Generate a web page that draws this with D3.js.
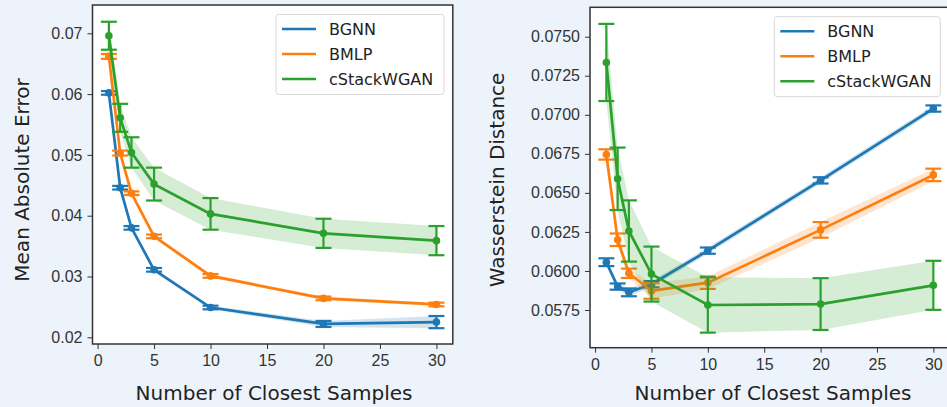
<!DOCTYPE html>
<html>
<head>
<meta charset="utf-8">
<script src="https://cdn.jsdelivr.net/npm/d3@7"></script>
<style>
  html, body { margin: 0; padding: 0; background: #edf3fa; }
  svg { display: block; font-family: "DejaVu Sans", sans-serif; }
  .tick text { font-size: 16px; fill: #333; }
  .tick line { stroke: #333; }
</style>
</head>
<body>
<div id="chart"></div>
<script>
// x positions shared by both panels
const samples = [1, 2, 3, 5, 10, 20, 30];
const seriesNames = ["BGNN", "BMLP", "cStackWGAN"];
const colors = ["#1f77b4", "#ff7f0e", "#2ca02c"];

// Mean Absolute Error panel
const maeBGNN = [0.0602, 0.0446, 0.0380, 0.0311, 0.0249, 0.0222, 0.0225];
const maeBGNNErr = [0.0003, 0.0003, 0.0003, 0.0003, 0.0003, 0.0005, 0.0010];
const maeBMLP = [0.0662, 0.0503, 0.0437, 0.0366, 0.0301, 0.0264, 0.0254];
const maeBMLPErr = [0.0004, 0.0004, 0.0003, 0.0003, 0.0003, 0.0003, 0.0003];
const maeWGAN = [0.0696, 0.0561, 0.0504, 0.0452, 0.0403, 0.0371, 0.0359];
const maeWGANErr = [0.0023, 0.0023, 0.0025, 0.0027, 0.0026, 0.0024, 0.0024];
const maeTicks = [0.02, 0.03, 0.04, 0.05, 0.06, 0.07];

// Wasserstein Distance panel
const wdBGNN = [0.06056, 0.0590, 0.05863, 0.05915, 0.0613, 0.0658, 0.0704];
const wdBGNNErr = [0.00025, 0.0002, 0.00025, 0.0002, 0.0002, 0.0002, 0.0002];
const wdBMLP = [0.06746, 0.0620, 0.05985, 0.05872, 0.05925, 0.06263, 0.06615];
const wdBMLPErr = [0.00033, 0.0004, 0.0003, 0.0005, 0.0004, 0.0005, 0.0004];
const wdWGAN = [0.07335, 0.0659, 0.06256, 0.0598, 0.05782, 0.05788, 0.05908];
const wdWGANErr = [0.00247, 0.0020, 0.00196, 0.00176, 0.00177, 0.00166, 0.00157];
const wdTicks = [0.0575, 0.0600, 0.0625, 0.0650, 0.0675, 0.0700, 0.0725, 0.0750];

const xTicks = [0, 5, 10, 15, 20, 25, 30];

const width = 947, height = 407;

const svg = d3.select("#chart").append("svg")
    .attr("width", width)
    .attr("height", height);

svg.append("rect").attr("width", width).attr("height", height).attr("fill", "#edf3fa");

function drawPanel(cfg) {
    const g = svg.append("g");

    const x = d3.scaleLinear().domain([-0.45, 31.45]).range([cfg.left, cfg.right]);
    const y = d3.scaleLinear().domain(cfg.yDomain).range(cfg.yRange);

    // plot area
    g.append("rect")
        .attr("x", cfg.left).attr("y", cfg.top)
        .attr("width", cfg.right - cfg.left).attr("height", cfg.bottom - cfg.top)
        .attr("fill", "#fff");

    const series = cfg.series.map((s, i) => ({
        name: seriesNames[i],
        color: colors[i],
        points: samples.map((k, j) => ({ k, v: s.mean[j], e: s.err[j] }))
    }));

    const area = d3.area()
        .x(d => x(d.k))
        .y0(d => y(d.v - d.e))
        .y1(d => y(d.v + d.e));

    const line = d3.line()
        .x(d => x(d.k))
        .y(d => y(d.v));

    series.forEach(s => {
        const sg = g.append("g");
        sg.append("path")
            .datum(s.points)
            .attr("d", area)
            .attr("fill", s.color)
            .attr("fill-opacity", 0.2)
            .attr("stroke", "none");

        sg.append("path")
            .datum(s.points)
            .attr("d", line)
            .attr("fill", "none")
            .attr("stroke", s.color)
            .attr("stroke-width", 2.7);

        const bars = sg.selectAll(".err")
            .data(s.points)
            .enter().append("g");

        bars.append("line")
            .attr("x1", d => x(d.k)).attr("x2", d => x(d.k))
            .attr("y1", d => y(d.v - d.e)).attr("y2", d => y(d.v + d.e))
            .attr("stroke", s.color).attr("stroke-width", 2.2);

        [-1, 1].forEach(sign => {
            bars.append("line")
                .attr("x1", d => x(d.k) - 8).attr("x2", d => x(d.k) + 8)
                .attr("y1", d => y(d.v + sign * d.e)).attr("y2", d => y(d.v + sign * d.e))
                .attr("stroke", s.color).attr("stroke-width", 2.2);
        });

        bars.append("circle")
            .attr("cx", d => x(d.k)).attr("cy", d => y(d.v))
            .attr("r", 3.8)
            .attr("fill", s.color);
    });

    // frame
    g.append("rect")
        .attr("x", cfg.left).attr("y", cfg.top)
        .attr("width", cfg.right - cfg.left).attr("height", cfg.bottom - cfg.top)
        .attr("fill", "none")
        .attr("stroke", "#333")
        .attr("stroke-width", 1.5);

    g.append("g")
        .attr("transform", `translate(0,${cfg.bottom})`)
        .call(d3.axisBottom(x).tickValues(xTicks).tickSize(5).tickPadding(6).tickFormat(d3.format("d")))
        .call(a => a.select(".domain").remove());

    g.append("g")
        .attr("transform", `translate(${cfg.left},0)`)
        .call(d3.axisLeft(y).tickValues(cfg.yTicks).tickSize(5).tickPadding(5).tickFormat(d3.format(cfg.fmt)))
        .call(a => a.select(".domain").remove());

    g.append("text")
        .attr("x", cfg.xLabelX).attr("y", 400)
        .attr("text-anchor", "middle")
        .attr("font-size", 20)
        .attr("fill", "#222")
        .text("Number of Closest Samples");

    g.append("text")
        .attr("transform", `translate(${cfg.yLabelX},180) rotate(-90)`)
        .attr("text-anchor", "middle")
        .attr("font-size", 20)
        .attr("fill", "#222")
        .text(cfg.yLabel);

    // legend
    const lg = g.append("g");
    lg.append("rect")
        .attr("x", cfg.legend.x).attr("y", cfg.legend.y)
        .attr("width", cfg.legend.w).attr("height", 80)
        .attr("rx", 3)
        .attr("fill", "#fff")
        .attr("stroke", "#d8d8d8");

    series.forEach((s, i) => {
        const ly = cfg.legend.y + 14.5 + i * 25;
        lg.append("line")
            .attr("x1", cfg.legend.x + 6).attr("x2", cfg.legend.x + 40)
            .attr("y1", ly).attr("y2", ly)
            .attr("stroke", s.color).attr("stroke-width", 2.5);
        lg.append("text")
            .attr("x", cfg.legend.x + 53).attr("y", ly)
            .attr("dy", "0.35em")
            .attr("font-size", 16)
            .attr("fill", "#222")
            .text(s.name);
    });
}

drawPanel({
    left: 92.5, right: 452.8, top: 5, bottom: 344,
    yDomain: [0.02, 0.07], yRange: [337.3, 33.3],
    yTicks: maeTicks, fmt: ".2f",
    yLabel: "Mean Absolute Error", yLabelX: 29, xLabelX: 274,
    legend: { x: 276, y: 14.5, w: 168 },
    series: [
        { mean: maeBGNN, err: maeBGNNErr },
        { mean: maeBMLP, err: maeBMLPErr },
        { mean: maeWGAN, err: maeWGANErr }
    ]
});

drawPanel({
    left: 590, right: 949.7, top: 7.3, bottom: 347.7,
    yDomain: [0.0575, 0.0750], yRange: [310, 36.7],
    yTicks: wdTicks, fmt: ".4f",
    yLabel: "Wasserstein Distance", yLabelX: 504, xLabelX: 773,
    legend: { x: 774.3, y: 16.7, w: 166 },
    series: [
        { mean: wdBGNN, err: wdBGNNErr },
        { mean: wdBMLP, err: wdBMLPErr },
        { mean: wdWGAN, err: wdWGANErr }
    ]
});
</script>
</body>
</html>
